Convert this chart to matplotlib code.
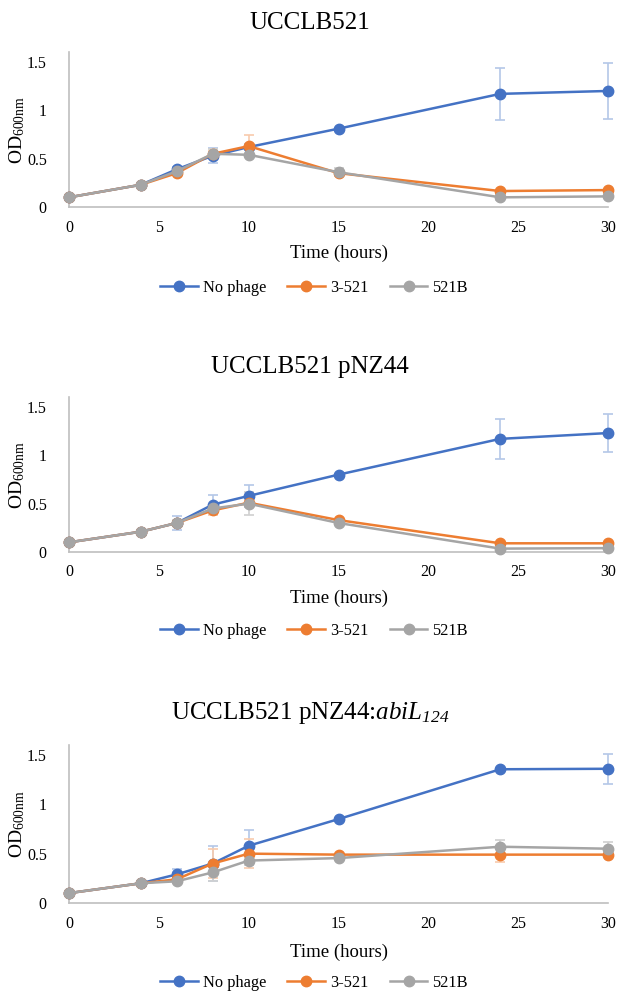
import matplotlib
matplotlib.use("Agg")
import matplotlib.pyplot as plt

plt.rcParams['font.family'] = ['Liberation Serif', 'DejaVu Serif']
plt.rcParams['mathtext.fontset'] = 'custom'
plt.rcParams['mathtext.rm'] = 'Liberation Serif'
plt.rcParams['mathtext.it'] = 'Liberation Serif:italic'
plt.rcParams['mathtext.sf'] = 'Liberation Serif:italic'

# ------------------ dades ------------------
hours = [0, 4, 6, 8, 10, 15, 24, 30]
series_names = ["No phage", "3-521", "521B"]
colors = ["#4472C4", "#ED7D31", "#A5A5A5"]
err_colors = ["#b4c7e7", "#f8cbad", "#d0d0d0"]

titles = ["UCCLB521",
          "UCCLB521 pNZ44",
          r"UCCLB521 pNZ44:$\mathsf{abiL}_{\mathsf{124}}$"]

# panell 1: UCCLB521
p1_nophage = [0.10, 0.23, 0.39, 0.53, 0.62, 0.81, 1.17, 1.20]
p1_nophage_err = [0, 0, 0.02, 0.08, 0.03, 0.01, 0.27, 0.29]
p1_3521 = [0.10, 0.23, 0.35, 0.55, 0.63, 0.35, 0.165, 0.175]
p1_3521_err = [0, 0, 0.01, 0.03, 0.11, 0.02, 0.01, 0.01]
p1_521b = [0.10, 0.23, 0.37, 0.55, 0.54, 0.36, 0.10, 0.11]
p1_521b_err = [0, 0, 0.01, 0.05, 0.02, 0.04, 0.03, 0.02]

# panell 2: UCCLB521 pNZ44
p2_nophage = [0.10, 0.21, 0.30, 0.49, 0.58, 0.80, 1.17, 1.23]
p2_nophage_err = [0, 0, 0.07, 0.10, 0.11, 0.01, 0.21, 0.20]
p2_3521 = [0.10, 0.21, 0.30, 0.43, 0.51, 0.33, 0.09, 0.09]
p2_3521_err = [0, 0, 0.02, 0.05, 0.02, 0.01, 0.01, 0.01]
p2_521b = [0.10, 0.21, 0.30, 0.45, 0.50, 0.30, 0.035, 0.04]
p2_521b_err = [0, 0, 0.03, 0.04, 0.12, 0.01, 0.01, 0.01]

# panell 3: UCCLB521 pNZ44:abiL124
p3_nophage = [0.10, 0.20, 0.29, 0.40, 0.58, 0.85, 1.355, 1.36]
p3_nophage_err = [0, 0, 0.05, 0.18, 0.16, 0.01, 0.01, 0.15]
p3_3521 = [0.10, 0.20, 0.24, 0.40, 0.50, 0.49, 0.49, 0.49]
p3_3521_err = [0, 0, 0.02, 0.15, 0.15, 0.01, 0.07, 0.02]
p3_521b = [0.10, 0.20, 0.22, 0.31, 0.43, 0.455, 0.57, 0.55]
p3_521b_err = [0, 0, 0.02, 0.09, 0.05, 0.01, 0.07, 0.07]

panels = [
    [(p1_nophage, p1_nophage_err), (p1_3521, p1_3521_err), (p1_521b, p1_521b_err)],
    [(p2_nophage, p2_nophage_err), (p2_3521, p2_3521_err), (p2_521b, p2_521b_err)],
    [(p3_nophage, p3_nophage_err), (p3_3521, p3_3521_err), (p3_521b, p3_521b_err)],
]

yticks = [0, 0.5, 1, 1.5]
ytick_labels = ["0", "0.5", "1", "1.5"]
xticks = [0, 5, 10, 15, 20, 25, 30]

# ------------------ figura ------------------
W, H = 619, 992
fig = plt.figure(figsize=(W / 100, H / 100), dpi=100)

# (px de l'eix x, px per unitat, y del titol, y de l'etiqueta x, y de la llegenda)
layout = [(207, 96.7, 23, 253, 288),
          (552, 96.7, 367, 598, 631),
          (903, 98.7, 713, 952, 983)]

left_px, right_px = 69, 608

for i, (data, lay) in enumerate(zip(panels, layout)):
    bot, ppu, ty, xly, lgy = lay
    ax = fig.add_axes([left_px / W, 1 - bot / H, (right_px - left_px) / W, 1.6 * ppu / H])
    handles = []
    for (vals, errs), name, c, ec in zip(data, series_names, colors, err_colors):
        ax.errorbar(hours, vals, yerr=errs, fmt='none', ecolor=ec, elinewidth=1.2,
                    capsize=3.5, capthick=1.2, clip_on=False, zorder=2)
        h, = ax.plot(hours, vals, color=c, lw=1.8, marker='o', markersize=7.5,
                     label=name, clip_on=False, zorder=3)
        handles.append(h)

    ax.set_xlim(0, 30)
    ax.set_ylim(0, 1.6)
    ax.set_xticks(xticks)
    ax.set_yticks(yticks)
    ax.set_yticklabels(ytick_labels)
    ax.tick_params(axis='both', length=0, labelsize=11.5)
    ax.tick_params(axis='y', pad=16)
    ax.tick_params(axis='x', pad=9)
    for s in ['top', 'right']:
        ax.spines[s].set_visible(False)
    for s in ['left', 'bottom']:
        ax.spines[s].set_color('#bfbfbf')
        ax.spines[s].set_linewidth(1.2)

    ax.set_ylabel(r"OD$_{\mathrm{600nm}}$", fontsize=14)
    ax.yaxis.set_label_coords(-(left_px - 17) / (right_px - left_px), 0.5)
    ax.yaxis.label.set_va('center')

    fig.text(310 / W, 1 - ty / H, titles[i], ha='center', va='center', fontsize=18)
    fig.text((left_px + right_px) / 2 / W, 1 - xly / H, "Time (hours)",
             ha='center', va='center', fontsize=13.5)
    fig.legend(handles=handles, loc='center', bbox_to_anchor=(314 / W, 1 - lgy / H),
               ncol=3, frameon=False, fontsize=11.8, handlelength=2.3,
               handletextpad=0.3, columnspacing=1.3)

fig.savefig("out.png", dpi=100)
